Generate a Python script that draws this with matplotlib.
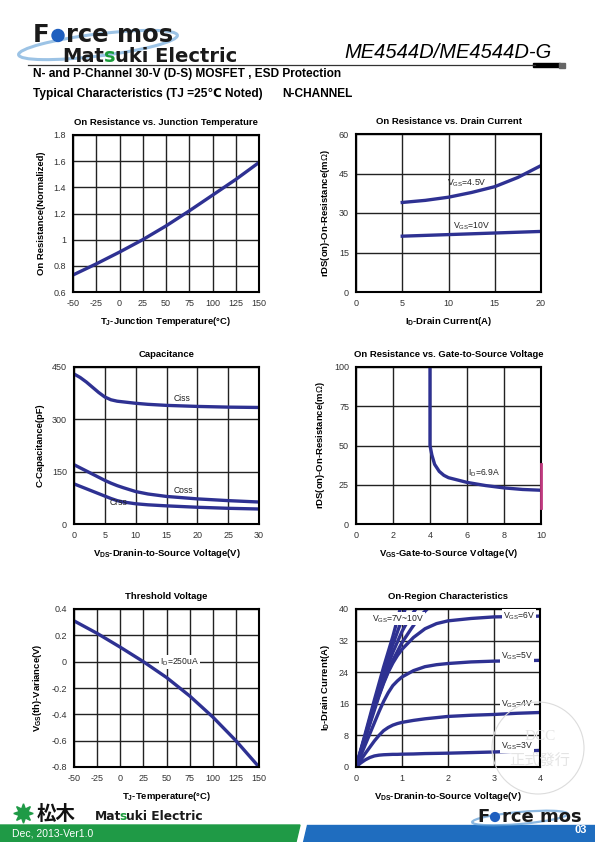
import numpy as np
import matplotlib
matplotlib.use('Agg')
import matplotlib.pyplot as plt
from matplotlib.patches import Rectangle, Polygon, Circle, Ellipse

plt.rcParams['font.family'] = ['Liberation Sans', 'DejaVu Sans']
plt.rcParams['mathtext.fontset'] = 'custom'
plt.rcParams['mathtext.rm'] = 'Liberation Sans'

NAVY = '#2e3192'
W, H = 595, 842

# ---- data ----
temp = [-50, -25, 0, 25, 50, 75, 100, 125, 150]
rds_norm = [0.73, 0.815, 0.905, 1.0, 1.105, 1.22, 1.34, 1.46, 1.59]

id_a = [5, 7.5, 10, 12.5, 15, 17.5, 20]
rds_vgs45 = [34.0, 34.8, 36.0, 37.8, 40.0, 43.5, 48.0]
rds_vgs10 = [21.2, 21.5, 21.8, 22.1, 22.4, 22.7, 23.0]

vds_cap = [0, 1, 2, 3, 4, 5, 6, 7, 8, 10, 12, 15, 20, 25, 30]
ciss = [430, 420, 407, 392, 377, 364, 356, 352, 350, 346, 343, 340, 337, 335, 334]
coss = [170, 161, 152, 143, 134, 125, 117, 110, 104, 93, 86, 79, 72, 67, 63]
crss = [115, 108, 101, 94, 87, 80, 73, 67, 63, 58, 55, 52, 48, 45, 43]

vgs = [4, 4, 4.1, 4.25, 4.5, 4.75, 5, 5.5, 6, 7, 8, 9, 10]
rds_vgs = [100, 50, 44, 38, 33.5, 31, 29.5, 28, 26.5, 24.5, 23, 22, 21.5]

vth_var = [0.31, 0.215, 0.11, 0.0, -0.12, -0.26, -0.42, -0.60, -0.80]

vds_out = [0, 0.1, 0.2, 0.3, 0.4, 0.5, 0.6, 0.7, 0.8, 0.9, 1.0, 1.25, 1.5, 1.75, 2.0, 2.5, 3.0, 3.5, 4.0]
id_vgs3 = [0, 1.0, 1.8, 2.4, 2.8, 3.0, 3.1, 3.15, 3.2, 3.2, 3.25, 3.3, 3.4, 3.45, 3.5, 3.65, 3.8, 4.0, 4.2]
id_vgs4 = [0, 1.7, 3.4, 5.0, 6.6, 8.0, 9.2, 10.0, 10.6, 11.0, 11.3, 11.8, 12.2, 12.5, 12.8, 13.1, 13.3, 13.6, 13.8]
id_vgs5 = [0, 2.8, 5.6, 8.4, 11.2, 14.0, 16.6, 18.8, 20.6, 21.8, 22.8, 24.4, 25.4, 25.9, 26.2, 26.6, 26.8, 26.9, 27.0]
id_vgs6 = [0, 3.6, 7.2, 10.8, 14.4, 18.0, 21.2, 24.0, 26.3, 28.2, 29.8, 32.8, 35.0, 36.3, 37.0, 37.6, 38.0, 38.1, 38.2]
vds_hi = [0, 0.2, 0.4, 0.6, 0.8, 1.0, 1.2, 1.4, 1.55]
id_vgs7 = [0, 7.5, 15.0, 21.5, 27.0, 31.5, 35.0, 38.3, 40.0]
vds_hi2 = [0, 0.2, 0.4, 0.6, 0.8, 1.0, 1.15, 1.3]
id_vgs8 = [0, 7.8, 15.6, 22.8, 29.0, 34.3, 37.5, 40.0]
vds_hi3 = [0, 0.2, 0.4, 0.6, 0.8, 0.95, 1.07]
id_vgs9 = [0, 8.0, 16.2, 24.0, 31.0, 35.8, 40.0]
vds_hi4 = [0, 0.2, 0.4, 0.6, 0.8, 0.96]
id_vgs10 = [0, 8.4, 17.0, 25.3, 33.0, 40.0]


fig = plt.figure(figsize=(W / 100, H / 100), dpi=100)
renderer = fig.canvas.get_renderer()


def px_axes(x0, y0, x1, y1):
    # pixel box (top-left origin) -> figure axes
    return fig.add_axes([x0 / W, 1 - y1 / H, (x1 - x0) / W, (y1 - y0) / H])


def style(ax, title, xlabel, ylabel, xlim, ylim, xt, yt):
    ax.set_xlim(*xlim)
    ax.set_ylim(*ylim)
    ax.set_xticks(xt)
    ax.set_yticks(yt)
    ax.set_xticklabels([('%g' % v) for v in xt])
    ax.set_yticklabels([('%g' % v) for v in yt])
    ax.tick_params(length=0, labelsize=6.5, labelcolor='#333333', pad=5)
    ax.grid(True, color='#222222', linewidth=1.0)
    ax.set_axisbelow(True)
    for s in ax.spines.values():
        s.set_linewidth(1.5)
        s.set_color('black')
    ax.set_title(title, fontsize=6.8, fontweight='bold', pad=7)
    ax.set_xlabel(xlabel, fontsize=6.8, fontweight='bold', labelpad=5)
    ax.set_ylabel(ylabel, fontsize=6.8, fontweight='bold', labelpad=5)


def lab(ax, x, y, s, bg=False, ha='center'):
    kw = {}
    if bg:
        kw['bbox'] = dict(facecolor='white', edgecolor='none', pad=0.6)
    ax.text(x, y, s, fontsize=6.2, color='#222222', ha=ha, va='center', **kw)


lw = 2.4

# 1. On resistance vs junction temperature
ax1 = px_axes(73, 135, 259, 292)
ax1.plot(temp, rds_norm, color=NAVY, lw=lw)
style(ax1, 'On Resistance vs. Junction Temperature',
      r'T$_\mathregular{J}$-Junction Temperature(°C)', 'On Resistance(Normalized)',
      (-50, 150), (0.6, 1.8), [-50, -25, 0, 25, 50, 75, 100, 125, 150],
      [0.6, 0.8, 1.0, 1.2, 1.4, 1.6, 1.8])
ax1.set_yticklabels(['0.6', '0.8', '1', '1.2', '1.4', '1.6', '1.8'])

# 2. On resistance vs drain current
ax2 = px_axes(356, 134, 541, 292)
ax2.plot(id_a, rds_vgs45, color=NAVY, lw=lw)
ax2.plot(id_a, rds_vgs10, color=NAVY, lw=lw)
style(ax2, 'On Resistance vs. Drain Current',
      r'I$_\mathregular{D}$-Drain Current(A)', r'rDS(on)-On-Resistance(m$\Omega$)',
      (0, 20), (0, 60), [0, 5, 10, 15, 20], [0, 15, 30, 45, 60])
lab(ax2, 12.0, 41.4, r'V$_\mathregular{GS}$=4.5V')
lab(ax2, 12.5, 25.0, r'V$_\mathregular{GS}$=10V')

# 3. Capacitance
ax3 = px_axes(74, 367, 259, 524)
ax3.plot(vds_cap, ciss, color=NAVY, lw=lw)
ax3.plot(vds_cap, coss, color=NAVY, lw=lw)
ax3.plot(vds_cap, crss, color=NAVY, lw=lw)
style(ax3, 'Capacitance', r'V$_\mathregular{DS}$-Dranin-to-Source Voltage(V)',
      'C-Capacitance(pF)', (0, 30), (0, 450), [0, 5, 10, 15, 20, 25, 30],
      [0, 150, 300, 450])
lab(ax3, 17.5, 361, 'Ciss')
lab(ax3, 17.8, 97, 'Coss')
lab(ax3, 7.2, 63, 'Crss')

# 4. On resistance vs gate-to-source voltage
ax4 = px_axes(356, 367, 541, 524)
ax4.plot(vgs, rds_vgs, color=NAVY, lw=lw)
ax4.plot([10, 10], [10, 38], color='#c0397f', lw=2.0, clip_on=False, zorder=5)
style(ax4, 'On Resistance vs. Gate-to-Source Voltage',
      r'V$_\mathregular{GS}$-Gate-to-Source Voltage(V)', r'rDS(on)-On-Resistance(m$\Omega$)',
      (0, 10), (0, 100), [0, 2, 4, 6, 8, 10], [0, 25, 50, 75, 100])
lab(ax4, 6.9, 32.5, r'I$_\mathregular{D}$=6.9A')

# 5. Threshold voltage
ax5 = px_axes(74, 609, 259, 767)
ax5.plot(temp, vth_var, color=NAVY, lw=lw)
style(ax5, 'Threshold Voltage', r'T$_\mathregular{J}$-Temperature(°C)',
      r'V$_\mathregular{GS}$(th)-Variance(V)', (-50, 150), (-0.8, 0.4),
      [-50, -25, 0, 25, 50, 75, 100, 125, 150], [-0.8, -0.6, -0.4, -0.2, 0, 0.2, 0.4])
lab(ax5, 64, 0.0, r'I$_\mathregular{D}$=250uA', bg=True)

# 6. On-region characteristics
ax6 = px_axes(356, 609, 540, 767)
ax6.plot(vds_out, id_vgs3, color=NAVY, lw=lw)
ax6.plot(vds_out, id_vgs4, color=NAVY, lw=lw)
ax6.plot(vds_out, id_vgs5, color=NAVY, lw=lw)
ax6.plot(vds_out, id_vgs6, color=NAVY, lw=lw)
ax6.plot(vds_hi, id_vgs7, color=NAVY, lw=lw)
ax6.plot(vds_hi2, id_vgs8, color=NAVY, lw=lw)
ax6.plot(vds_hi3, id_vgs9, color=NAVY, lw=lw)
ax6.plot(vds_hi4, id_vgs10, color=NAVY, lw=lw)
style(ax6, 'On-Region Characteristics', r'V$_\mathregular{DS}$-Dranin-to-Source Voltage(V)',
      r'I$_\mathregular{D}$-Drain Current(A)', (0, 4), (0, 40), [0, 1, 2, 3, 4],
      [0, 8, 16, 24, 32, 40])
lab(ax6, 0.91, 37.5, r'V$_\mathregular{GS}$=7V~10V', bg=True)
lab(ax6, 3.55, 38.2, r'V$_\mathregular{GS}$=6V', bg=True)
lab(ax6, 3.5, 28.0, r'V$_\mathregular{GS}$=5V', bg=True)
lab(ax6, 3.5, 16.0, r'V$_\mathregular{GS}$=4V', bg=True)
lab(ax6, 3.5, 5.3, r'V$_\mathregular{GS}$=3V', bg=True)

# ---- page decoration (header / footer) ----
deco = fig.add_axes([0, 0, 1, 1], zorder=-1)
deco.set_xlim(0, W)
deco.set_ylim(H, 0)
deco.axis('off')

over = fig.add_axes([0, 0, 1, 1], zorder=10)
over.set_xlim(0, W)
over.set_ylim(H, 0)
over.axis('off')


def pieces(ax, x, y, parts, kern=0.0, **kw):
    # draw consecutive text runs, each with its own colour
    for s, c in parts:
        t = ax.text(x, y, s, color=c, va='baseline', **kw)
        bb = t.get_window_extent(renderer=renderer)
        x += bb.width - kern


BLK = '#1a1a1a'
GRN = '#1a9b3a'
LOGO = ['DejaVu Sans', 'Liberation Sans']

# header logo
deco.add_patch(Ellipse((98, 45), 160, 22, angle=-7, fill=False, ec='#5b9bd5', lw=2.2, alpha=0.6))
pieces(deco, 33, 42, [('F', BLK), ('o', 'none'), ('rce mos', BLK)],
       fontsize=17.5, fontweight='bold', family=LOGO)
deco.add_patch(Circle((58, 35.5), 6.0, color='#1f5fbf'))
pieces(deco, 62, 62, [('Mat', BLK), ('s', GRN), ('uki Electric', BLK)],
       fontsize=14, fontweight='bold', family=LOGO)

deco.text(552, 58, 'ME4544D/ME4544D-G', fontsize=14.5, fontstyle='italic', ha='right',
          va='baseline', color='black')
deco.plot([28, 535], [65, 65], color='#333333', lw=0.9)
deco.add_patch(Rectangle((533, 63), 27, 4, color='black'))
deco.add_patch(Rectangle((559, 62.5), 6, 5, color='#666666'))

deco.text(33, 74, 'N- and P-Channel 30-V (D-S) MOSFET , ESD Protection', fontsize=8.6,
          fontweight='bold', va='center')
deco.text(33, 94, 'Typical Characteristics (TJ =25℃ Noted)', fontsize=8.6,
          fontweight='bold', va='center')
deco.text(282, 94, 'N-CHANNEL', fontsize=8.6, fontweight='bold', va='center')

# watermark
over.add_patch(Circle((538, 748), 46, fill=False, ec='#dcdcdc', lw=0.8))
over.text(540, 736, 'DCC', fontsize=11, color='#e4e4e4', ha='center', va='center', family='Liberation Serif')
over.text(540, 760, '正式發行', fontsize=11, color='#e4e4e4', ha='center', va='center',
          family=['Noto Sans CJK TC', 'DejaVu Sans'])

# footer
deco.add_patch(Polygon([[0, 825], [300, 825], [296, 842], [0, 842]], color='#1f9a46'))
deco.add_patch(Polygon([[307, 825], [595, 825], [595, 842], [303, 842]], color='#1f6dbf'))
deco.text(12, 833.5, 'Dec, 2013-Ver1.0', fontsize=7.5, color='white', va='center')
deco.text(587, 830, '03', fontsize=8, fontweight='bold', color='white', va='center', ha='right')

deco.plot([23], [813], marker=(8, 1, 0), ms=14, color='#1f9a46')
deco.text(37, 814, '松木', fontsize=14, fontweight='bold', va='center', color='#111111',
          family=['Noto Sans CJK JP', 'DejaVu Sans'])
pieces(deco, 95, 820, [('Mat', BLK), ('s', GRN), ('uki Electric', BLK)], kern=1.5,
       fontsize=8.8, fontweight='bold', family=LOGO)

deco.add_patch(Ellipse((520, 818), 96, 12, angle=-5, fill=False, ec='#5b9bd5', lw=1.6, alpha=0.7))
pieces(deco, 477, 822, [('F', BLK), ('o', 'none'), ('rce mos', BLK)],
       fontsize=13, fontweight='bold', family=LOGO)
deco.add_patch(Circle((495, 817), 4.4, color='#1f5fbf'))

fig.savefig('out.png', dpi=100)
